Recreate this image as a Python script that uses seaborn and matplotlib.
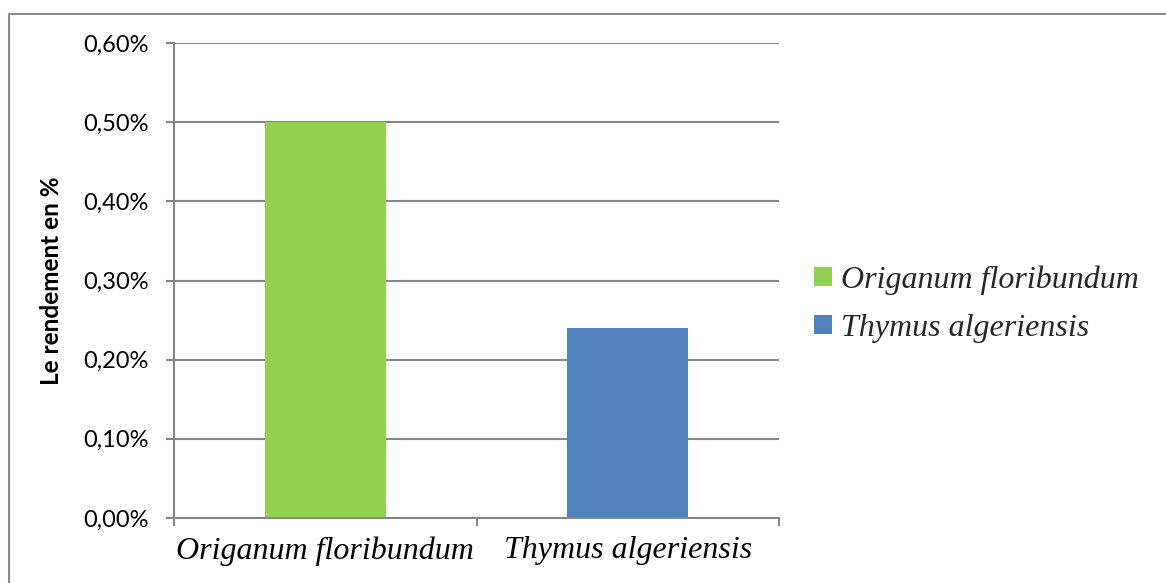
import matplotlib
matplotlib.use("Agg")
import matplotlib.pyplot as plt
import seaborn as sns
import pandas as pd
from matplotlib.lines import Line2D
from matplotlib.ticker import FixedLocator, FuncFormatter

categories = ["Origanum floribundum", "Thymus algeriensis"]
values = [0.50, 0.24]
colors = ["#92D050", "#4F81BD"]
yticks = [0.0, 0.1, 0.2, 0.3, 0.4, 0.5, 0.6]
ylabel = "Le rendement en %"

sns.set_theme(style="white")
plt.rcParams['font.family'] = ['Lato', 'DejaVu Sans']

df = pd.DataFrame({"espece": categories, "rendement": values})

fig = plt.figure(figsize=(11.66, 5.83), dpi=100)
ax = fig.add_axes([174/1166, 1-518/583, (779-174)/1166, (518-43)/583])

sns.barplot(data=df, x="espece", y="rendement", hue="espece",
            palette=colors, dodge=False, width=0.4, ax=ax, legend=True,
            saturation=1, linewidth=0)

grid_c = "#868686"
ax.set_ylim(0, 0.6)
ax.set_xlim(-0.5, 1.5)
ax.set_yticks(yticks)
ax.yaxis.set_major_formatter(FuncFormatter(lambda v, p: f"{v:.2f}".replace(".", ",") + "%"))
ax.yaxis.grid(True, color=grid_c, linewidth=1.5)
ax.set_axisbelow(True)
for s in ["top", "right"]:
    ax.spines[s].set_visible(False)
for s in ["left", "bottom"]:
    ax.spines[s].set_color(grid_c)
    ax.spines[s].set_linewidth(1.5)

ax.tick_params(axis="y", which="major", length=6, width=1.5, color=grid_c,
               labelsize=17, pad=12, left=True, labelcolor="black")
ax.xaxis.set_minor_locator(FixedLocator([-0.5, 0.5, 1.5]))
ax.tick_params(axis="x", which="minor", length=6, width=1.5, color=grid_c, bottom=True)
ax.tick_params(axis="x", which="major", length=0, pad=13)
for lab in ax.get_xticklabels():
    lab.set_fontfamily(["Liberation Serif"])
    lab.set_fontstyle("italic")
    lab.set_fontsize(23)
    lab.set_color("black")

ax.set_xlabel("")
ax.set_ylabel(ylabel, fontsize=17.5, fontweight="bold", color="black")
ax.yaxis.set_label_coords((63-174)/605, 0.5)

handles, labels = ax.get_legend_handles_labels()
ax.legend_.remove()
fig.legend(handles, labels, loc="center left", bbox_to_anchor=(814/1166, 1-304/583),
           frameon=False, borderpad=0, borderaxespad=0,
           handlelength=0.55, handleheight=0.55, handletextpad=0.3, labelspacing=0.6,
           prop={"family": ["Liberation Serif"], "style": "italic", "size": 23})

fig.add_artist(Line2D([9/1166, 9/1166], [0, 1-14/583], color="#8c8c8c", linewidth=1.5,
                      transform=fig.transFigure))
fig.add_artist(Line2D([9/1166, 1], [1-14/583, 1-14/583], color="#8c8c8c", linewidth=1.5,
                      transform=fig.transFigure))

fig.savefig("out.png", dpi=100)
